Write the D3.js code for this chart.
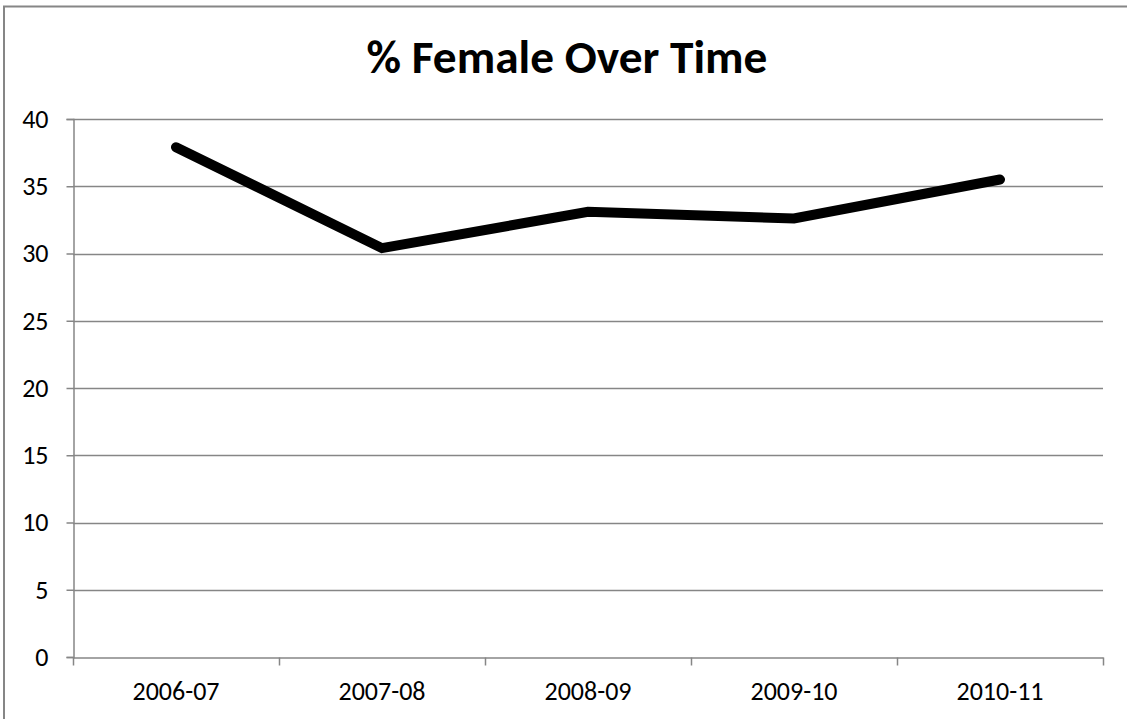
<!DOCTYPE html>
<html>
<head>
<meta charset="utf-8">
<script src="https://cdn.jsdelivr.net/npm/d3@7"></script>
<style>
  html, body { margin: 0; padding: 0; background: #fff; overflow: hidden; }
  svg { display: block; }
  text { font-family: Carlito, "Open Sans", sans-serif; fill: #000; }
</style>
</head>
<body>
<script>
// Share of female enrolment by academic year
const years = ["2006-07", "2007-08", "2008-09", "2009-10", "2010-11"];
const pctFemale = [37.9, 30.4, 33.1, 32.6, 35.5];
const yTicks = [0, 5, 10, 15, 20, 25, 30, 35, 40];
const titleText = "% Female Over Time";

const W = 1127, H = 719;
const plot = { left: 73, right: 1103, top: 119, bottom: 657 };
const gridColor = "#868686";
const labelFont = 'Carlito, "Open Sans", sans-serif';
const labelSize = 26;

const svg = d3.select("body").append("svg")
  .attr("width", W).attr("height", H);

// outer chart frame (runs past the right and bottom edges)
svg.append("rect")
  .attr("x", 4).attr("y", 6.5)
  .attr("width", W + 10).attr("height", H + 10)
  .attr("fill", "none")
  .attr("stroke", gridColor)
  .attr("stroke-width", 2);

const x = d3.scaleBand().domain(years).range([plot.left, plot.right]).padding(0);
const y = d3.scaleLinear().domain([0, 40]).range([plot.bottom, plot.top]);

// horizontal gridlines
svg.append("g")
  .selectAll("line")
  .data(yTicks.filter(d => d > 0))
  .join("line")
  .attr("x1", plot.left).attr("x2", plot.right)
  .attr("y1", d => Math.round(y(d)) + 0.5)
  .attr("y2", d => Math.round(y(d)) + 0.5)
  .attr("stroke", gridColor)
  .attr("stroke-width", 1.5);

// y axis
const yAxis = d3.axisLeft(y).tickValues(yTicks).tickSize(7).tickPadding(18);
const gy = svg.append("g")
  .attr("transform", `translate(${plot.left + 0.5},0)`)
  .call(yAxis);
gy.select(".domain").attr("stroke", gridColor).attr("stroke-width", 1.5);
gy.selectAll(".tick line").attr("stroke", gridColor).attr("stroke-width", 1.5);
gy.selectAll(".tick text")
  .attr("font-size", labelSize)
  .attr("font-family", labelFont)
  .attr("fill", "#000");

// x axis: ticks at category boundaries, labels centred in each band
const xAxis = d3.axisBottom(x).tickSize(0).tickPadding(24);
const gx = svg.append("g")
  .attr("transform", `translate(0,${Math.round(y(0)) + 0.5})`)
  .call(xAxis);
gx.select(".domain").attr("stroke", gridColor).attr("stroke-width", 1.5);
gx.selectAll(".tick text")
  .attr("font-size", labelSize)
  .attr("font-family", labelFont)
  .attr("fill", "#000");
const boundaries = years.map(d => x(d)).concat([x.range()[1]]);
gx.append("g").selectAll("line")
  .data(boundaries)
  .join("line")
  .attr("x1", d => Math.round(d) + 0.5).attr("x2", d => Math.round(d) + 0.5)
  .attr("y1", 0).attr("y2", 8)
  .attr("stroke", gridColor)
  .attr("stroke-width", 1.5);

// data line
const line = d3.line()
  .x((d, i) => x(years[i]) + x.bandwidth() / 2)
  .y(d => y(d));
svg.append("path")
  .datum(pctFemale)
  .attr("d", line)
  .attr("fill", "none")
  .attr("stroke", "#000")
  .attr("stroke-width", 10)
  .attr("stroke-linecap", "round")
  .attr("stroke-linejoin", "miter");

// title, sized to span the heading block width
const title = svg.append("text")
  .attr("x", 567)
  .attr("y", 72.5)
  .attr("text-anchor", "middle")
  .attr("font-weight", "bold")
  .attr("font-size", 40)
  .text(titleText);
const tw = title.node().getComputedTextLength();
title.attr("font-size", 40 * 401 / tw);
</script>
</body>
</html>
